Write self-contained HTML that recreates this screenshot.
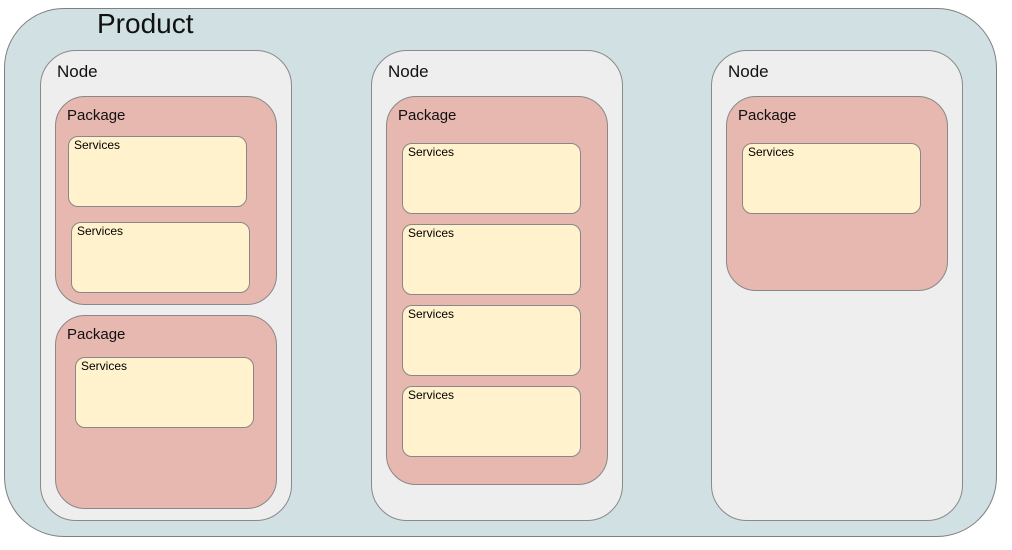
<!DOCTYPE html>
<html><head><style>
body{margin:0;width:1012px;height:550px;background:#fff;position:relative;font-family:"Liberation Sans",Arial,sans-serif;overflow:hidden}
div{position:absolute;box-sizing:border-box}
.p{left:4px;top:8px;width:993px;height:529px;border-radius:60px;background:#d0e0e3;border:1.5px solid #7f7f7f}
.n{top:50px;width:252px;height:471px;border-radius:36px;background:#eeeeee;border:1.5px solid #8a8a8a}
.k{width:222px;border-radius:30px;background:#e6b8af;border:1.5px solid #888}
.s{width:179px;height:71px;border-radius:10px;background:#fff2cc;border:1.5px solid #888}
.t{font-size:12px;color:#000;white-space:nowrap}
.nt{font-size:17px;color:#111;white-space:nowrap}
.kt{font-size:15px;color:#111;white-space:nowrap}
</style></head><body>
<div class="p"></div>
<div class="nt" style="left:97px;top:8px;font-size:28px">Product</div>

<div class="n" style="left:40px"></div>
<div class="n" style="left:371px"></div>
<div class="n" style="left:711px"></div>
<div class="nt" style="left:57px;top:62px">Node</div>
<div class="nt" style="left:388px;top:62px">Node</div>
<div class="nt" style="left:728px;top:62px">Node</div>

<div class="k" style="left:55px;top:96px;height:209px"></div>
<div class="k" style="left:55px;top:315px;height:194px"></div>
<div class="k" style="left:386px;top:96px;height:389px"></div>
<div class="k" style="left:726px;top:96px;height:195px"></div>
<div class="kt" style="left:67px;top:107px">Package</div>
<div class="kt" style="left:67px;top:326px">Package</div>
<div class="kt" style="left:398px;top:107px">Package</div>
<div class="kt" style="left:738px;top:107px">Package</div>

<div class="s" style="left:68px;top:136px"></div><div class="t" style="left:74px;top:138px">Services</div>
<div class="s" style="left:71px;top:222px"></div><div class="t" style="left:77px;top:224px">Services</div>
<div class="s" style="left:75px;top:357px"></div><div class="t" style="left:81px;top:359px">Services</div>
<div class="s" style="left:402px;top:143px"></div><div class="t" style="left:408px;top:145px">Services</div>
<div class="s" style="left:402px;top:224px"></div><div class="t" style="left:408px;top:226px">Services</div>
<div class="s" style="left:402px;top:305px"></div><div class="t" style="left:408px;top:307px">Services</div>
<div class="s" style="left:402px;top:386px"></div><div class="t" style="left:408px;top:388px">Services</div>
<div class="s" style="left:742px;top:143px"></div><div class="t" style="left:748px;top:145px">Services</div>
</body></html>
